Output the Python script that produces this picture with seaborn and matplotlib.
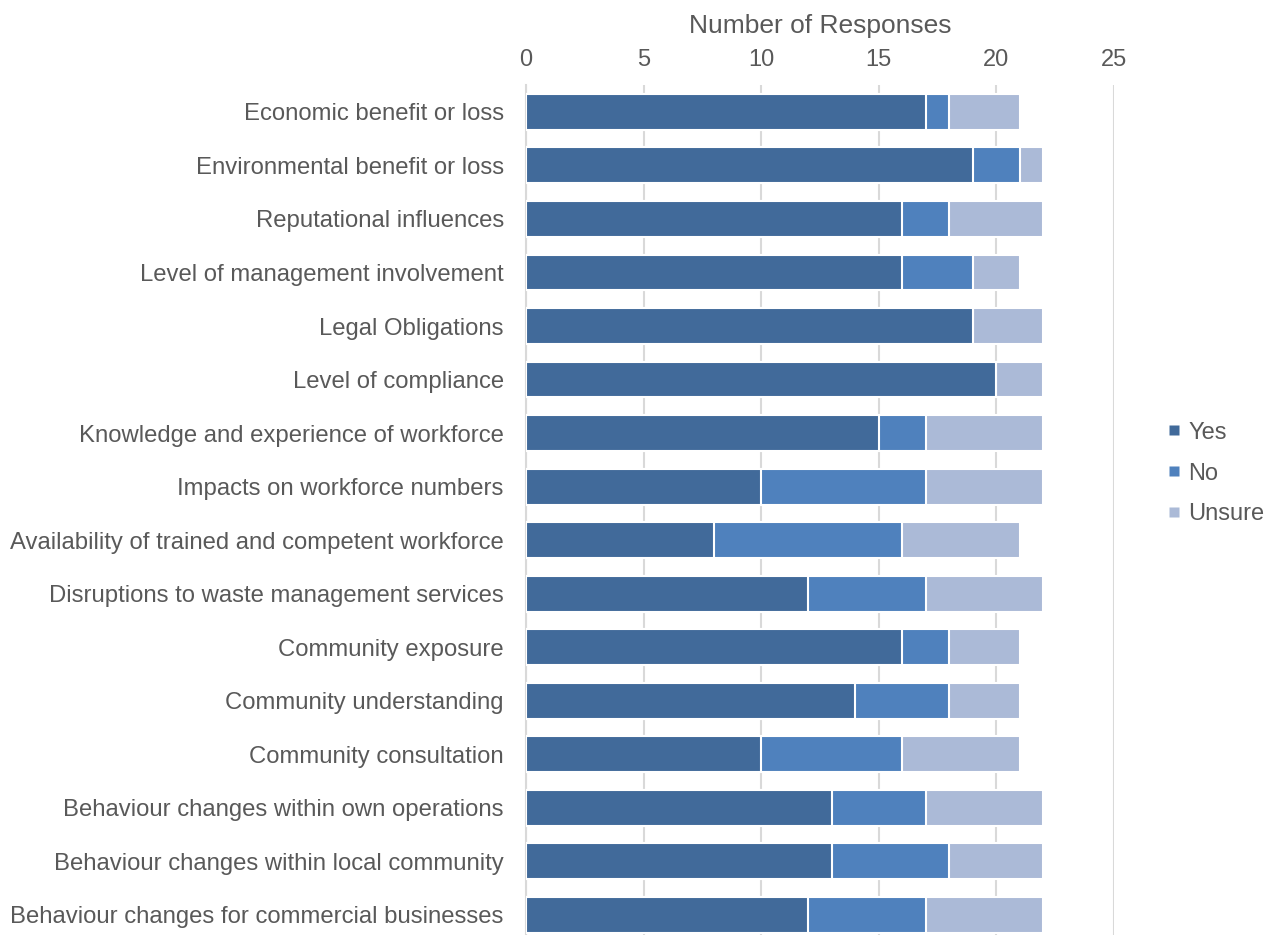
import matplotlib
matplotlib.use("Agg")
import matplotlib.pyplot as plt
import seaborn as sns
import numpy as np
import pandas as pd
from matplotlib.lines import Line2D

categories = [
    "Economic benefit or loss",
    "Environmental benefit or loss",
    "Reputational influences",
    "Level of management involvement",
    "Legal Obligations",
    "Level of compliance",
    "Knowledge and experience of workforce",
    "Impacts on workforce numbers",
    "Availability of trained and competent workforce",
    "Disruptions to waste management services",
    "Community exposure",
    "Community understanding",
    "Community consultation",
    "Behaviour changes within own operations",
    "Behaviour changes within local community",
    "Behaviour changes for commercial businesses",
]
yes = [17, 19, 16, 16, 19, 20, 15, 10, 8, 12, 16, 14, 10, 13, 13, 12]
no = [1, 2, 2, 3, 0, 0, 2, 7, 8, 5, 2, 4, 6, 4, 5, 5]
unsure = [3, 1, 4, 2, 3, 2, 5, 5, 5, 5, 3, 3, 5, 5, 4, 5]
series_names = ["Yes", "No", "Unsure"]
colors = ["#416A9A", "#4F81BD", "#ABBAD7"]
xticks = [0, 5, 10, 15, 20, 25]

sns.set_theme(style="white")
plt.rcParams['font.family'] = ['Liberation Sans', 'DejaVu Sans']
text_color = "#595959"

fig = plt.figure(figsize=(12.74, 9.35), dpi=100)
ax = fig.add_axes([0.4129, 0.0, 0.4615, 0.909])

y_arr = np.array(yes)
n_arr = np.array(no)
u_arr = np.array(unsure)
cum = [y_arr, y_arr + n_arr, y_arr + n_arr + u_arr]

for vals, col in zip(reversed(cum), reversed(colors)):
    df = pd.DataFrame({"cat": categories, "val": vals})
    sns.barplot(data=df, x="val", y="cat", orient="h", color=col, width=0.67,
                edgecolor="white", linewidth=1.5, saturation=1, ax=ax, zorder=3)

ax.set_xlim(0, 25)
ax.set_ylim(15.375, -0.5)
ax.set_xticks(xticks)
ax.xaxis.tick_top()
ax.xaxis.set_label_position("top")
ax.set_xlabel("Number of Responses", fontsize=19, color=text_color, labelpad=11)
ax.set_ylabel("")
ax.tick_params(axis="x", labelsize=17, colors=text_color, length=0, pad=10.5)
ax.tick_params(axis="y", labelsize=17.2, colors=text_color, length=0, pad=16)
ax.grid(axis="x", color="#D9D9D9", linewidth=1.5, zorder=0)
ax.set_axisbelow(True)
for s in ["top", "right", "bottom"]:
    ax.spines[s].set_visible(False)
ax.spines["left"].set_color("#D9D9D9")
ax.spines["left"].set_linewidth(1.5)

handles = [Line2D([], [], marker="s", linestyle="none", markersize=7.5,
                  markerfacecolor=c, markeredgecolor="none") for c in colors]
fig.legend(handles, series_names, loc="center left", bbox_to_anchor=(0.917, 0.4935),
           frameon=False, fontsize=17, labelcolor=text_color, borderpad=0, borderaxespad=0,
           handlelength=0.45, handletextpad=0.4, labelspacing=0.8)

fig.savefig("out.png", dpi=100)
